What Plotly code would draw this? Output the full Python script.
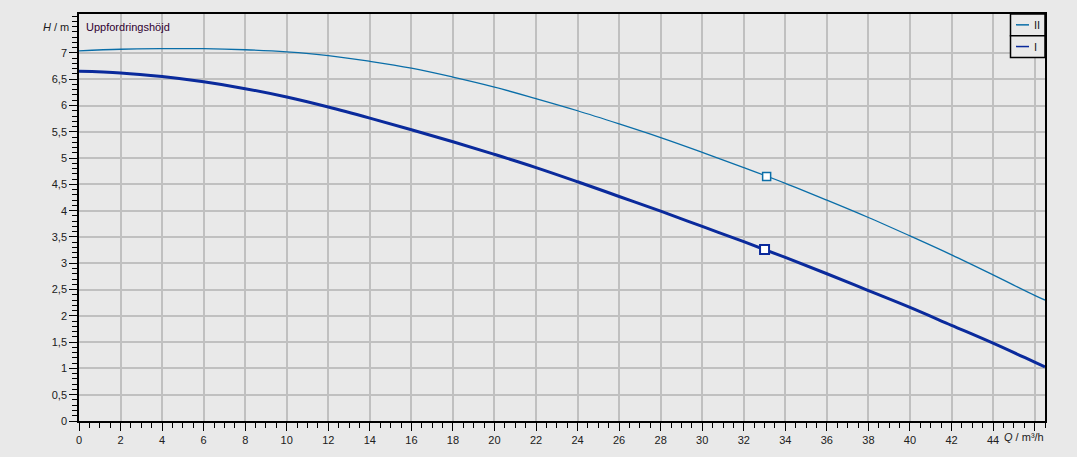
import plotly.graph_objects as go

# pump curves
q = [0, 2, 4, 6, 8, 10, 12, 14, 16, 18, 20, 22, 24, 26, 28, 30, 32, 34, 36, 38, 40, 42, 44, 46, 46.5]
h_ii = [7.04, 7.07, 7.08, 7.08, 7.06, 7.02, 6.95, 6.84, 6.71, 6.54, 6.35, 6.13, 5.90, 5.65, 5.39, 5.11,
        4.82, 4.52, 4.20, 3.87, 3.52, 3.16, 2.78, 2.39, 2.30]
h_i = [6.65, 6.62, 6.55, 6.45, 6.32, 6.16, 5.97, 5.76, 5.54, 5.31, 5.07, 4.82, 4.55, 4.27, 3.99, 3.70,
       3.41, 3.11, 2.80, 2.48, 2.16, 1.82, 1.48, 1.12, 1.03]

# duty points
op_q = [33.1, 33.0]
op_h = [4.65, 3.26]

names = ["II", "I"]
x_ticks = list(range(0, 47, 2))
x_labels = [str(v) for v in range(0, 45, 2)] + [""]
y_ticks = [i * 0.5 for i in range(15)]
y_labels = [("%g" % v).replace(".", ",") for v in y_ticks]

col_ii = "#0a6ea8"
col_i = "#0a2a9c"
bg = "#e9e9e9"
font = "Liberation Sans, Arial, sans-serif"

W, H = 1077, 457
L, R, T, B = 79, 32, 14, 36


def px(x):  # pixel -> paper x
    return (x - L) / (W - L - R)


def py(y):  # pixel -> paper y
    return (H - B - y) / (H - T - B)


fig = go.Figure()
fig.add_trace(go.Scatter(x=q, y=h_ii, mode="lines", name=names[0], line=dict(color=col_ii, width=1.3, shape="spline")))
fig.add_trace(go.Scatter(x=q, y=h_i, mode="lines", name=names[1], line=dict(color=col_i, width=3, shape="spline")))
fig.add_trace(go.Scatter(x=op_q[:1], y=op_h[:1], mode="markers",
                         marker=dict(symbol="square", size=8, color="white", line=dict(color=col_ii, width=1.5))))
fig.add_trace(go.Scatter(x=op_q[1:], y=op_h[1:], mode="markers",
                         marker=dict(symbol="square", size=9, color="white", line=dict(color=col_i, width=2))))

axis_common = dict(
    showline=True, linecolor="black", linewidth=1.5, mirror=True,
    ticks="outside", ticklen=8, tickcolor="black", tickwidth=1,
    gridcolor="#c0c0c0", gridwidth=1.5, zeroline=False,
    tickfont=dict(family=font, size=11, color="#202020"),
)
fig.update_xaxes(range=[0, 46.5], tickmode="array", tickvals=x_ticks, ticktext=x_labels,
                 minor=dict(dtick=0.5, ticklen=5, tickcolor="black", showgrid=False), **axis_common)
fig.update_yaxes(range=[0, 7.74], tickmode="array", tickvals=y_ticks, ticktext=y_labels,
                 minor=dict(dtick=0.1, ticklen=5, tickcolor="black", showgrid=False), **axis_common)

fig.add_annotation(xref="paper", yref="paper", x=px(71), y=py(27), xanchor="right", yanchor="middle",
                   text="<i>H</i> / m", showarrow=False, font=dict(family=font, size=11, color="#202020"))
fig.add_annotation(xref="paper", yref="paper", x=px(84), y=py(27), xanchor="left", yanchor="middle",
                   text="Uppfordringshöjd", showarrow=False, font=dict(family=font, size=11, color="#300030"))
fig.add_annotation(xref="paper", yref="paper", x=px(1046), y=py(437), xanchor="right", yanchor="middle",
                   text="<i>Q</i> / m³/h", showarrow=False, font=dict(family=font, size=11, color="#202020"))

# legend drawn as two bordered boxes
for i, (name, col) in enumerate(zip(names, [col_ii, col_i])):
    y0, y1 = 14 + 21.7 * i, 14 + 21.7 * (i + 1)
    ym = (y0 + y1) / 2
    fig.add_shape(type="rect", xref="paper", yref="paper", x0=px(1010.5), x1=px(1045), y0=py(y1), y1=py(y0),
                  line=dict(color="black", width=1.5), fillcolor=bg)
    fig.add_shape(type="line", xref="paper", yref="paper", x0=px(1016), x1=px(1029), y0=py(ym), y1=py(ym),
                  line=dict(color=col, width=1.5))
    fig.add_annotation(xref="paper", yref="paper", x=px(1032), y=py(ym), xanchor="left", yanchor="middle",
                       text=name, showarrow=False, font=dict(family=font, size=11, color="#202020"))

fig.update_layout(
    width=W, height=H,
    margin=dict(l=L, r=R, t=T, b=B),
    paper_bgcolor=bg, plot_bgcolor=bg,
    font=dict(family=font, size=11, color="#202020"),
    showlegend=False,
)

fig.write_html("out.html", config={"displayModeBar": False},
               post_script="document.body.style.margin='0';document.body.style.background='%s';" % bg)
